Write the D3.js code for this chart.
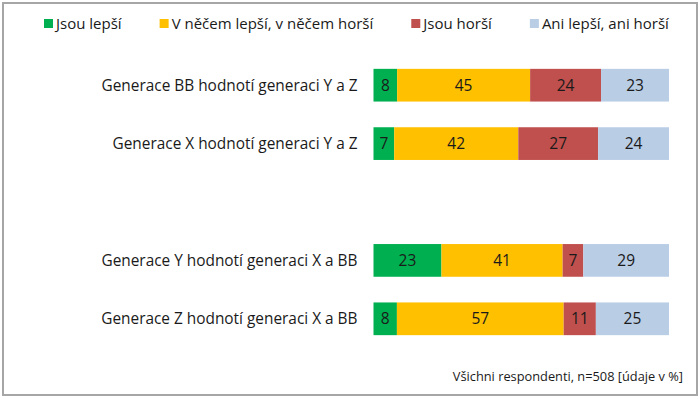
<!DOCTYPE html>
<html>
<head>
<meta charset="utf-8">
<script src="https://cdn.jsdelivr.net/npm/d3@7"></script>
<style>
  body { margin: 0; background: #fff; }
  svg { display: block; font-family: "Open Sans", Lato, sans-serif; }
</style>
</head>
<body>
<div id="chart"></div>
<script>
// categories (rows), an empty slot separates the two groups
var categories = [
  "Generace BB hodnotí generaci Y a Z",
  "Generace X hodnotí generaci Y a Z",
  "",
  "Generace Y hodnotí generaci X a BB",
  "Generace Z hodnotí generaci X a BB"
];
var seriesNames = ["Jsou lepší", "V něčem lepší, v něčem horší", "Jsou horší", "Ani lepší, ani horší"];
var seriesColors = ["#00b050", "#ffc000", "#c0504d", "#b9cde5"];

// values per series, in row order
var better  = [8, 7, null, 23, 8];
var mixed   = [45, 42, null, 41, 57];
var worse   = [24, 27, null, 7, 11];
var neither = [23, 24, null, 29, 25];
var note = "Všichni respondenti, n=508 [údaje v %]";

var width = 700, height = 399;
var margin = {top: 56, left: 373.5, right: 31, bottom: 51};

var svg = d3.select("#chart").append("svg")
    .attr("width", width)
    .attr("height", height);

// outer frame
svg.append("rect")
    .attr("x", 3).attr("y", 3)
    .attr("width", width - 6).attr("height", height - 7)
    .attr("fill", "none")
    .attr("stroke", "#a6a6a6")
    .attr("stroke-width", 2);

var rows = categories.map(function(c, i) {
  return {cat: c, a: better[i], b: mixed[i], c: worse[i], d: neither[i]};
});
var keys = ["a", "b", "c", "d"];
var valueRows = rows.filter(function(r) { return r.a != null; });

var stack = d3.stack().keys(keys).offset(d3.stackOffsetExpand);
var stacked = stack(valueRows);

var x = d3.scaleLinear().domain([0, 1]).range([margin.left, width - margin.right]);
var y = d3.scaleBand().domain(d3.range(categories.length))
    .range([margin.top, height - margin.bottom])
    .paddingInner(0.44).paddingOuter(0.22);

function rowIndex(r) { return rows.indexOf(r); }

var layer = svg.selectAll("g.layer")
  .data(stacked)
  .enter().append("g")
    .attr("class", "layer")
    .attr("fill", function(d, i) { return seriesColors[i]; });

layer.selectAll("rect")
  .data(function(d) { return d; })
  .enter().append("rect")
    .attr("x", function(d) { return x(d[0]); })
    .attr("y", function(d) { return y(rowIndex(d.data)); })
    .attr("width", function(d) { return x(d[1]) - x(d[0]); })
    .attr("height", y.bandwidth());

layer.each(function(s, si) {
  d3.select(this).selectAll("text")
    .data(s)
    .enter().append("text")
      .attr("x", function(d) { return (x(d[0]) + x(d[1])) / 2; })
      .attr("y", function(d) { return y(rowIndex(d.data)) + y.bandwidth() / 2; })
      .attr("dy", "0.36em")
      .attr("text-anchor", "middle")
      .attr("fill", "#1a1a1a")
      .style("font-size", "15.5px")
      .text(function(d) { return d.data[keys[si]]; });
});

// category labels
svg.selectAll("text.cat")
  .data(rows.filter(function(r) { return r.cat; }))
  .enter().append("text")
    .attr("class", "cat")
    .attr("x", margin.left - 16)
    .attr("y", function(d) { return y(rowIndex(d)) + y.bandwidth() / 2; })
    .attr("dy", "0.36em")
    .attr("text-anchor", "end")
    .attr("fill", "#1a1a1a")
    .style("font-size", "15.4px")
    .text(function(d) { return d.cat; });

// legend
var lx = 44;
seriesNames.forEach(function(name, i) {
  var g = svg.append("g").attr("transform", "translate(" + lx + ",24)");
  g.append("rect").attr("x", 0).attr("y", -5).attr("width", 9).attr("height", 9)
    .attr("fill", seriesColors[i]);
  var t = g.append("text").attr("x", 12).attr("y", 0).attr("dy", "0.36em")
    .attr("fill", "#1a1a1a")
    .style("font-size", "15px")
    .text(name);
  lx += 12 + t.node().getComputedTextLength() + 38;
});

// footnote
svg.append("text")
    .attr("x", width - 17)
    .attr("y", 381)
    .attr("text-anchor", "end")
    .attr("fill", "#1a1a1a")
    .style("font-size", "12.8px")
    .text(note);
</script>
</body>
</html>
